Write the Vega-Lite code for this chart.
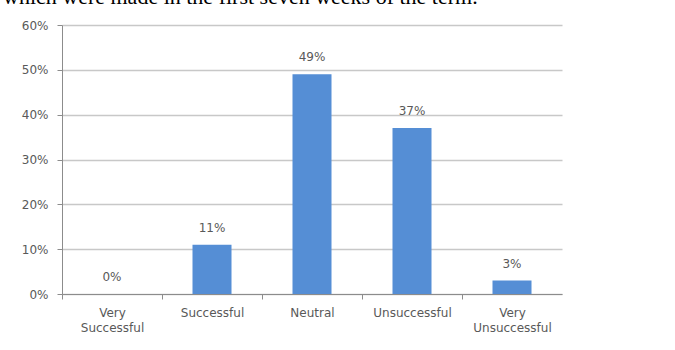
{
  "$schema": "https://vega.github.io/schema/vega-lite/v6.json",
  "autosize": {"type": "none"},
  "width": 500,
  "height": 269,
  "padding": {"left": 62, "top": 25, "right": 113, "bottom": 56},
  "background": "white",
  "title": {
    "text": "which were made in the first seven weeks of the term.",
    "font": "Liberation Serif",
    "fontSize": 22,
    "fontWeight": "normal",
    "color": "black",
    "anchor": "start",
    "frame": "group",
    "offset": 10,
    "dx": -59
  },
  "data": {
    "values": [
      {"category": "Very Successful", "value": 0.0, "label": "0%"},
      {"category": "Successful", "value": 0.11, "label": "11%"},
      {"category": "Neutral", "value": 0.49, "label": "49%"},
      {"category": "Unsuccessful", "value": 0.37, "label": "37%"},
      {"category": "Very Unsuccessful", "value": 0.03, "label": "3%"}
    ]
  },
  "encoding": {
    "x": {
      "field": "category",
      "type": "nominal",
      "sort": null,
      "scale": {"paddingInner": 0.61, "paddingOuter": 0.305},
      "axis": {
        "title": null,
        "labelAngle": 0,
        "labelExpr": "split(datum.label, ' ')",
        "labelFont": "DejaVu Sans",
        "labelFontSize": 12,
        "labelColor": "#595959",
        "labelLineHeight": 15,
        "labelPadding": 8,
        "tickOffset": -50,
        "labelOffset": 50,
        "tickColor": "#8c8c8c",
        "tickSize": 5,
        "domainColor": "#8c8c8c",
        "grid": false
      }
    },
    "y": {
      "field": "value",
      "type": "quantitative",
      "scale": {"domain": [0, 0.6], "nice": false},
      "axis": {
        "title": null,
        "format": "%",
        "values": [0, 0.1, 0.2, 0.3, 0.4, 0.5, 0.6],
        "labelFont": "DejaVu Sans",
        "labelFontSize": 12,
        "labelColor": "#595959",
        "labelPadding": 9,
        "tickColor": "#8c8c8c",
        "tickSize": 5,
        "domainColor": "#8c8c8c",
        "gridColor": "#c8c8c8",
        "gridWidth": 1.5
      }
    }
  },
  "layer": [
    {"mark": {"type": "bar", "color": "#558ed5"}},
    {
      "mark": {
        "type": "text",
        "font": "DejaVu Sans",
        "fontSize": 12,
        "color": "#595959",
        "baseline": "middle",
        "dy": -17
      },
      "encoding": {"text": {"field": "label"}}
    }
  ],
  "config": {"view": {"stroke": null}}
}
